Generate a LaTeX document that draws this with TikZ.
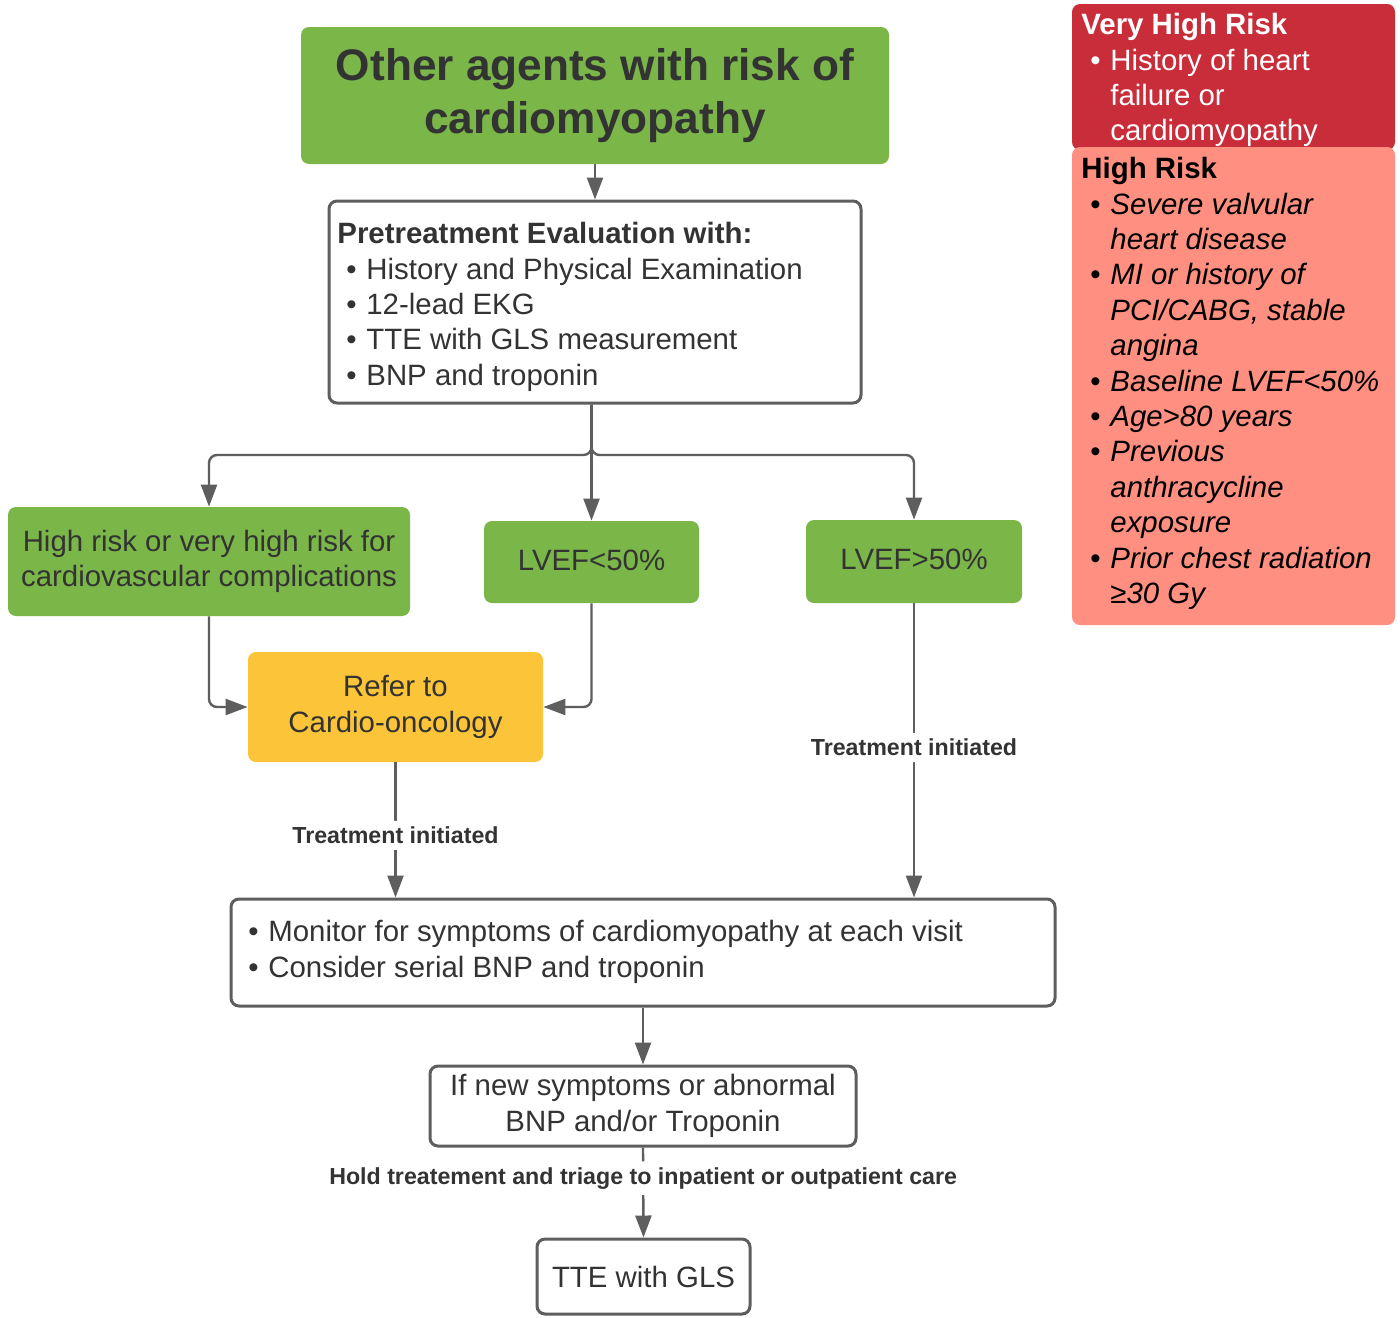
\documentclass[tikz,border=0pt]{standalone}
\usepackage{fontspec}
\setmainfont{Liberation Sans}
\usetikzlibrary{arrows.meta}

\definecolor{lgreen}{HTML}{7AB648}
\definecolor{lyellow}{HTML}{FCC438}
\definecolor{lred}{HTML}{C92D39}
\definecolor{lsalmon}{HTML}{FF8F80}
\definecolor{txt}{HTML}{333333}
\definecolor{bord}{HTML}{5E5E5E}

\newcommand\bodyfont{\fontsize{14.7}{17.7}\selectfont}
\newcommand\headfont{\fontsize{22.1}{26.5}\selectfont\bfseries}
\newcommand\labfont{\fontsize{11.6}{14}\selectfont\bfseries}
\newcommand\bl{\makebox[10pt][l]{\textbullet}}
\newcommand\bli{\hspace*{4.5pt}\bl}
\newcommand\hangi{\hspace*{14.5pt}}

\tikzset{
  x=0.5pt, y=-0.5pt,
  box/.style={rounded corners=4pt, inner sep=0pt, text=txt, font=\bodyfont, align=center},
  greenbox/.style={box, fill=lgreen},
  yellowbox/.style={box, fill=lyellow},
  outline/.style={box, draw=bord, line width=1.5pt, fill=white},
  blocktext/.style={anchor=north west, inner sep=0pt, align=left, font=\bodyfont, text=txt},
  conn/.style={draw=bord, line width=1.2pt, rounded corners=4pt,
    -{Triangle[width=8pt,length=11pt]}},
  lbl/.style={fill=white, font=\labfont, text=txt, inner xsep=1pt, inner ysep=3pt},
}

\begin{document}
\begin{tikzpicture}
\fill[white] (0,0) rectangle (1400,1317);
\useasboundingbox (0,0) rectangle (1400,1317);

% main flow boxes
\node[greenbox, minimum width=294pt, minimum height=68.5pt, font=\headfont] (title)
  at (595,95.5) {Other agents with risk of\\cardiomyopathy};

\node[outline, minimum width=266pt, minimum height=101pt] (pre) at (595,302) {};
\node[blocktext] (pretext) at (337,222) {%
  \textbf{Pretreatment Evaluation with:}\\
  \bli History and Physical Examination\\
  \bli 12-lead EKG\\
  \bli TTE with GLS measurement\\
  \bli BNP and troponin};

\node[greenbox, minimum width=201pt, minimum height=54.5pt] (hr) at (209,561.5)
  {High risk or very high risk for\\cardiovascular complications};
\node[greenbox, minimum width=107.5pt, minimum height=41pt] (l50) at (591.5,562)
  {\raisebox{2pt}{LVEF<50\%}};
\node[greenbox, minimum width=108pt, minimum height=41.5pt] (g50) at (914,561.5)
  {\raisebox{2pt}{LVEF>50\%}};

\node[yellowbox, minimum width=147.5pt, minimum height=55pt] (ref) at (395.5,707)
  {Refer to\\Cardio-oncology};

\node[outline, minimum width=412pt, minimum height=53.5pt] (mon) at (643,952.5) {};
\node[blocktext] (montext) at (248,920) {%
  \bl Monitor for symptoms of cardiomyopathy at each visit\\
  \bl Consider serial BNP and troponin};

\node[outline, minimum width=213pt, minimum height=40pt] (ifn) at (643,1106)
  {If new symptoms or abnormal\\BNP and/or Troponin};
\node[outline, minimum width=106.5pt, minimum height=37.5pt] (tte) at (643.5,1276.5)
  {TTE with GLS};

% risk legend
\node[box, fill=lred, minimum width=161.5pt, minimum height=73pt] (vhr) at (1233.5,77) {};
\node[blocktext, text=white] (vhrtext) at (1081,13) {%
  \textbf{Very High Risk}\\
  \bli History of heart\\
  \hangi failure or\\
  \hangi cardiomyopathy};
\node[box, fill=lsalmon, minimum width=161.5pt, minimum height=239pt] (hrb) at (1233.5,386) {};
\node[blocktext, text=black] (hrtext) at (1081,157) {%
  \textbf{High Risk}\\
  \bli\textit{Severe valvular}\\
  \hangi\textit{heart disease}\\
  \bli\textit{MI or history of}\\
  \hangi\textit{PCI/CABG, stable}\\
  \hangi\textit{angina}\\
  \bli\textit{Baseline LVEF<50\%}\\
  \bli\textit{Age>80 years}\\
  \bli\textit{Previous}\\
  \hangi\textit{anthracycline}\\
  \hangi\textit{exposure}\\
  \bli\textit{Prior chest radiation}\\
  \hangi\textit{≥30 Gy}};

% connectors
\coordinate (split) at (591.5,455);
\draw[conn] (title.south) -- (pre.north);
\draw[conn] (l50.north |- pre.south) -- (l50.north);
\draw[conn] (l50.north |- pre.south) -- (split) -| (hr.north);
\draw[conn] (l50.north |- pre.south) -- (split) -| (g50.north);
\draw[conn] (hr.south) |- (ref.west);
\draw[conn] (l50.south) |- (ref.east);
\draw[conn] (ref.south) -- node[lbl, pos=0.54] (lab1) {Treatment initiated} (ref.south |- mon.north);
\draw[conn] (g50.south) -- node[lbl, pos=0.49] (lab2) {Treatment initiated} (g50.south |- mon.north);
\draw[conn] (mon.south) -- (ifn.north);
\draw[conn] (ifn.south) -- node[lbl, pos=0.34] (lab3)
  {Hold treatement and triage to inpatient or outpatient care} (tte.north);
\end{tikzpicture}
\end{document}
